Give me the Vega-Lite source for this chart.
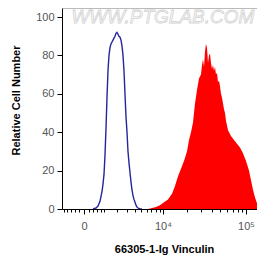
{
  "$schema": "https://vega.github.io/schema/vega-lite/v6.json",
  "width": 195,
  "height": 201,
  "autosize": {"type": "none"},
  "padding": {"left": 62, "top": 8, "right": 0, "bottom": 53},
  "background": "white",
  "config": {"view": {"stroke": null}, "font": "Liberation Sans"},
  "datasets": {
    "stained": [
      {"fl": 6275, "count": 0}, {"fl": 7131, "count": 0.5}, {"fl": 8081, "count": 1}, {"fl": 9136, "count": 2},
      {"fl": 10310, "count": 3.5}, {"fl": 11613, "count": 5}, {"fl": 13062, "count": 8}, {"fl": 14251, "count": 12},
      {"fl": 15540, "count": 17}, {"fl": 16933, "count": 21}, {"fl": 18440, "count": 25}, {"fl": 20073, "count": 30},
      {"fl": 21237, "count": 36}, {"fl": 22461, "count": 40}, {"fl": 23752, "count": 45}, {"fl": 25115, "count": 55},
      {"fl": 26545, "count": 62}, {"fl": 28057, "count": 68}, {"fl": 29650, "count": 70}, {"fl": 30482, "count": 75},
      {"fl": 31333, "count": 78}, {"fl": 32206, "count": 74}, {"fl": 33103, "count": 82}, {"fl": 34024, "count": 86},
      {"fl": 34969, "count": 84}, {"fl": 35940, "count": 76}, {"fl": 36935, "count": 80}, {"fl": 37959, "count": 81},
      {"fl": 39009, "count": 76}, {"fl": 40087, "count": 73}, {"fl": 41194, "count": 75}, {"fl": 42332, "count": 72},
      {"fl": 43498, "count": 74}, {"fl": 44696, "count": 70}, {"fl": 45924, "count": 71}, {"fl": 47187, "count": 66},
      {"fl": 48483, "count": 67}, {"fl": 49814, "count": 64}, {"fl": 51184, "count": 60}, {"fl": 52585, "count": 58},
      {"fl": 54024, "count": 55}, {"fl": 55503, "count": 52}, {"fl": 57021, "count": 50}, {"fl": 58579, "count": 46},
      {"fl": 61826, "count": 41}, {"fl": 67018, "count": 38}, {"fl": 72644, "count": 36}, {"fl": 78717, "count": 34},
      {"fl": 85304, "count": 32}, {"fl": 92417, "count": 29}, {"fl": 100134, "count": 25}, {"fl": 108491, "count": 20},
      {"fl": 114421, "count": 15}, {"fl": 120688, "count": 10}, {"fl": 127294, "count": 6}, {"fl": 134256, "count": 3},
      {"fl": 141600, "count": 1}, {"fl": 153340, "count": 0}
    ],
    "control": [
      {"fl": 382, "count": 0}, {"fl": 531, "count": 0.5}, {"fl": 637, "count": 1.5}, {"fl": 749, "count": 4},
      {"fl": 866, "count": 9}, {"fl": 928, "count": 13}, {"fl": 991, "count": 18}, {"fl": 1055, "count": 28},
      {"fl": 1121, "count": 42}, {"fl": 1189, "count": 58}, {"fl": 1259, "count": 72}, {"fl": 1331, "count": 80},
      {"fl": 1405, "count": 84}, {"fl": 1480, "count": 86}, {"fl": 1558, "count": 87}, {"fl": 1638, "count": 88},
      {"fl": 1719, "count": 89}, {"fl": 1803, "count": 90}, {"fl": 1889, "count": 91.5}, {"fl": 1978, "count": 92},
      {"fl": 2069, "count": 91}, {"fl": 2162, "count": 90}, {"fl": 2258, "count": 89.5}, {"fl": 2356, "count": 88},
      {"fl": 2457, "count": 85}, {"fl": 2561, "count": 80}, {"fl": 2667, "count": 72}, {"fl": 2776, "count": 60},
      {"fl": 2889, "count": 48}, {"fl": 3004, "count": 40}, {"fl": 3122, "count": 30}, {"fl": 3243, "count": 24},
      {"fl": 3368, "count": 19}, {"fl": 3496, "count": 14}, {"fl": 3628, "count": 10}, {"fl": 3762, "count": 7},
      {"fl": 3901, "count": 5}, {"fl": 4043, "count": 3.5}, {"fl": 4189, "count": 2}, {"fl": 4338, "count": 1},
      {"fl": 4493, "count": 0.5}, {"fl": 4813, "count": 0}, {"fl": 5150, "count": 0}
    ]
  },
  "layer": [
    {
      "data": {"name": "stained"},
      "mark": {"type": "area", "color": "#ff0000", "clip": true, "interpolate": "linear"},
      "encoding": {
        "x": {
          "field": "fl", "type": "quantitative",
          "scale": {"type": "symlog", "constant": 1430, "domain": [-1121, 134256], "nice": false, "zero": false},
          "axis": {
            "orient": "bottom",
            "values": [-1000, -800, -600, -400, -200, 0, 200, 400, 600, 800, 1000, 2000, 3000, 4000, 5000, 6000, 7000, 8000, 9000, 10000, 20000, 30000, 40000, 50000, 60000, 70000, 80000, 90000, 100000],
            "labelExpr": "datum.value==0?'0':datum.value==10000?'10⁴':datum.value==100000?'10⁵':''",
            "tickSize": {"condition": {"test": "datum.value==0||datum.value==10000||datum.value==100000", "value": 5}, "value": 3},
            "grid": false, "labelOverlap": false, "labelFlush": false,
            "domainColor": "black", "tickColor": "black",
            "labelColor": "#555", "labelFontSize": 11, "labelPadding": 6,
            "title": "66305-1-Ig Vinculin", "titleFontSize": 11, "titleFontWeight": "bold", "titleColor": "black",
            "titlePadding": 12, "titleX": 102
          }
        },
        "y": {
          "field": "count", "type": "quantitative",
          "scale": {"domain": [0, 104.7], "nice": false},
          "axis": {
            "values": [0, 5, 10, 15, 20, 25, 30, 35, 40, 45, 50, 55, 60, 65, 70, 75, 80, 85, 90, 95, 100],
            "labelExpr": "datum.value%20==0?datum.label:''",
            "tickSize": {"condition": {"test": "datum.value%20==0", "value": 5}, "value": 3},
            "grid": false, "labelOverlap": false, "labelFlush": false,
            "domainColor": "black", "tickColor": "black",
            "labelColor": "#555", "labelFontSize": 11, "labelPadding": 3,
            "title": "Relative Cell Number", "titleFontSize": 11, "titleFontWeight": "bold", "titleColor": "black",
            "titlePadding": 14, "titleY": 92
          }
        }
      }
    },
    {
      "data": {"name": "control"},
      "mark": {"type": "line", "color": "#25259e", "strokeWidth": 1.4, "clip": true},
      "encoding": {
        "x": {"field": "fl", "type": "quantitative",
          "axis": {"orient": "top", "labels": false, "ticks": false, "title": null, "domainColor": "#bbbbbb", "grid": false}},
        "y": {"field": "count", "type": "quantitative"}
      }
    },
    {
      "data": {"values": [{}]},
      "mark": {"type": "text", "align": "left", "baseline": "middle", "fontSize": 19, "fontStyle": "italic", "fill": "white", "stroke": "#d2d2d2", "strokeWidth": 0.8, "clip": true},
      "encoding": {
        "x": {"datum": -560, "type": "quantitative", "axis": null},
        "y": {"datum": 100, "type": "quantitative"},
        "text": {"value": "WWW.PTGLAB.COM"}
      }
    }
  ],
  "resolve": {"axis": {"x": "independent"}}
}
